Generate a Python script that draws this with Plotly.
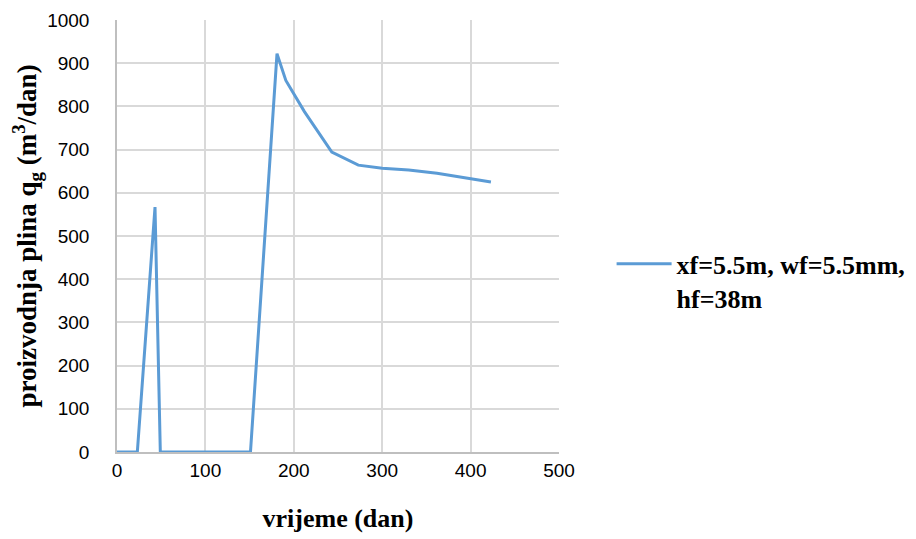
import plotly.graph_objects as go

# time (days) and gas production (m3/day)
days = [0, 23, 43, 49, 151, 181, 191, 212, 243, 273, 300, 330, 362, 398, 423]
qg = [0, 0, 567, 0, 0, 922, 860, 788, 694, 664, 657, 653, 645, 633, 625]

x_ticks = [0, 100, 200, 300, 400, 500]
y_ticks = [0, 100, 200, 300, 400, 500, 600, 700, 800, 900, 1000]

series_name = "<b>xf=5.5m, wf=5.5mm,<br>hf=38m</b>"

fig = go.Figure()
fig.add_trace(go.Scatter(
    x=days,
    y=qg,
    mode='lines',
    name=series_name,
    line=dict(color='#5b9bd5', width=3),
    showlegend=True,
))

serif = 'Liberation Serif, Times New Roman, serif'
sans = 'Liberation Sans, Arial, sans-serif'

# page body has an 8px margin, so the figure margins are shifted by that
fig.update_layout(
    width=916,
    height=539,
    margin=dict(l=109, r=365, t=12, b=95),
    paper_bgcolor='white',
    plot_bgcolor='white',
    showlegend=True,
    xaxis=dict(
        range=[0, 500],
        tickvals=x_ticks,
        showgrid=True,
        gridcolor='#d9d9d9',
        gridwidth=1.5,
        zeroline=False,
        showline=True,
        linecolor='#bfbfbf',
        linewidth=1.5,
        ticks='',
        automargin=False,
        tickfont=dict(family=sans, size=19, color='#000000'),
        title=dict(text='<b>vrijeme (dan)</b>', font=dict(family=serif, size=26, color='#000000'), standoff=29),
    ),
    yaxis=dict(
        range=[0, 1000],
        tickvals=y_ticks,
        showgrid=True,
        gridcolor='#d9d9d9',
        gridwidth=1.5,
        zeroline=False,
        showline=True,
        linecolor='#bfbfbf',
        linewidth=1.5,
        ticks='',
        automargin=False,
        ticklabelstandoff=22,
        tickfont=dict(family=sans, size=19, color='#000000'),
        title=dict(text='<b>proizvodnja plina q<sub>g</sub> (m<sup>3</sup>/dan)</b>',
                   font=dict(family=serif, size=27, color='#000000'), standoff=14),
    ),
    legend=dict(
        x=1.119,
        y=0.49,
        xanchor='left',
        yanchor='top',
        valign='top',
        itemwidth=55,
        font=dict(family=serif, size=26, color='#000000'),
        bgcolor='rgba(0,0,0,0)',
    ),
)

fig.write_html("out.html")
